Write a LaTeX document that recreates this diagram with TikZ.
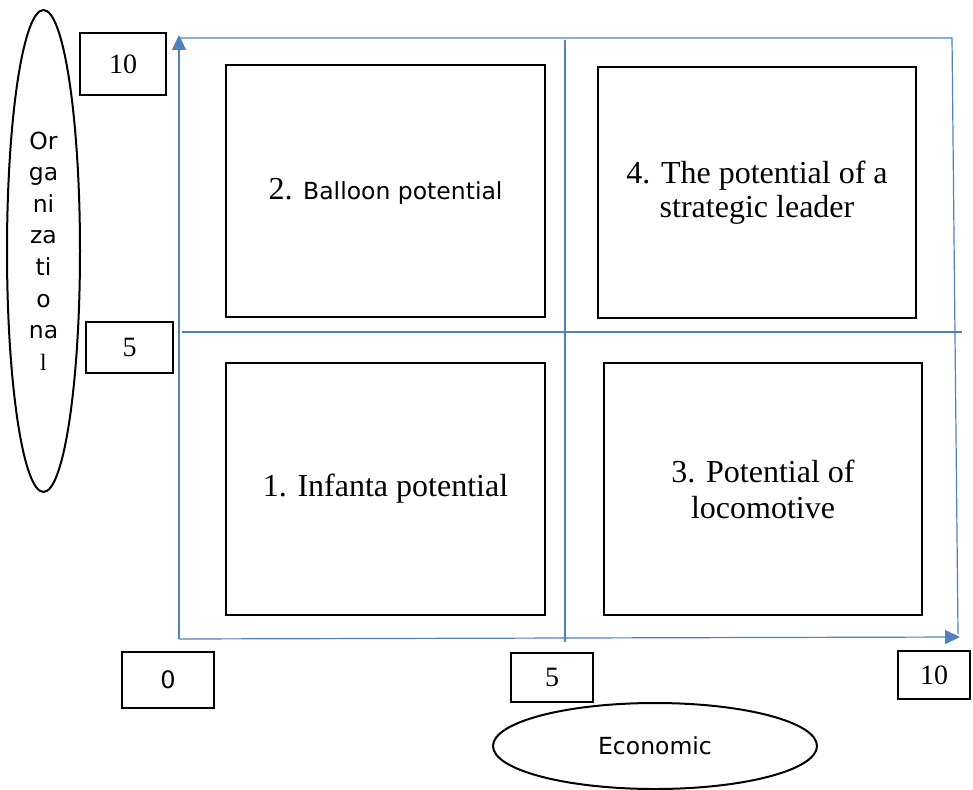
\documentclass[tikz,border=0pt]{standalone}
\usepackage{fontspec}
\setmainfont{Liberation Serif}
\setsansfont{DejaVu Sans}
\usetikzlibrary{arrows.meta,shapes.geometric,positioning}
\definecolor{axisblue}{RGB}{79,129,189}

\begin{document}
\begin{tikzpicture}[x=1pt, y=-1pt, >={Triangle[length=15pt,width=14pt]},
  quadbox/.style={draw=black, line width=2pt, inner sep=0pt, align=center,
    minimum width=319pt, minimum height=252pt, font=\fontsize{32}{36}\selectfont},
  numbox/.style={draw=black, line width=2pt, inner sep=0pt,
    font=\fontsize{28}{30}\selectfont},
  axisname/.style={ellipse, draw=black, line width=2pt, inner sep=0pt, align=center,
    font=\sffamily\fontsize{23.5}{31.6}\selectfont},
  axisline/.style={axisblue, line width=1.2pt}]

  \useasboundingbox (0,0) rectangle (973,789);

  % ========== AXES AND GRID ==========
  \coordinate (O)    at (179,639);
  \coordinate (ytip) at (179,35);
  \coordinate (xtip) at (960,637);
  \coordinate (tl)   at (179,38);
  \coordinate (tr)   at (952,38);
  \coordinate (br)   at (958,634);
  \coordinate (ml)   at (182,332);
  \coordinate (mr)   at (962,332);
  \coordinate (mt)   at (565,40);
  \coordinate (mb)   at (565,642);

  \draw[axisline, ->] (O) -- (ytip);
  \draw[axisline, ->] (O) -- (xtip);
  \draw[axisline] (tl) -- (tr) -- (br);
  \draw[axisline] (ml) -- (mr);
  \draw[axisline] (mt) -- (mb);

  % ========== QUADRANTS ==========
  \node[quadbox] (q2) at (385.5,191)
    {2. {\sffamily\fontsize{23.5}{28}\selectfont Balloon potential}};
  \node[quadbox, minimum width=318pt, minimum height=251pt] (q4) at (757,192.5)
    {\raisebox{-2pt}{4. The potential of a}\\strategic leader};
  \node[quadbox] (q1) at (385.5,489) {\raisebox{-1pt}{1. Infanta potential}};
  \node[quadbox, minimum width=318pt] (q3) at (763,489)
    {3. Potential of\\locomotive};

  % ========== SCALE MARKS ==========
  \node[numbox, minimum width=86pt, minimum height=62pt] (y10) at (123,64) {10};
  \node[numbox, minimum width=87pt, minimum height=51pt] (y5) at (129.5,347.5) {5};
  \node[numbox, minimum width=92pt, minimum height=56pt,
        font=\sffamily\fontsize{24}{26}\selectfont] (x0) at (168,680) {0};
  \node[numbox, minimum width=82pt, minimum height=49pt] (x5) at (552,677.5)
    {\raisebox{-6pt}{5}};
  \node[numbox, minimum width=72pt, minimum height=48pt] (x10) at (934,675) {10};

  % ========== AXIS NAMES ==========
  \node[axisname, minimum width=73pt, minimum height=482pt] (org) at (43.5,251)
    {Or\\ga\\ni\\za\\ti\\o\\na\\{\rmfamily l}};
  \node[axisname, minimum width=324pt, minimum height=86pt] (eco) at (655,746)
    {Economic};

\end{tikzpicture}
\end{document}
